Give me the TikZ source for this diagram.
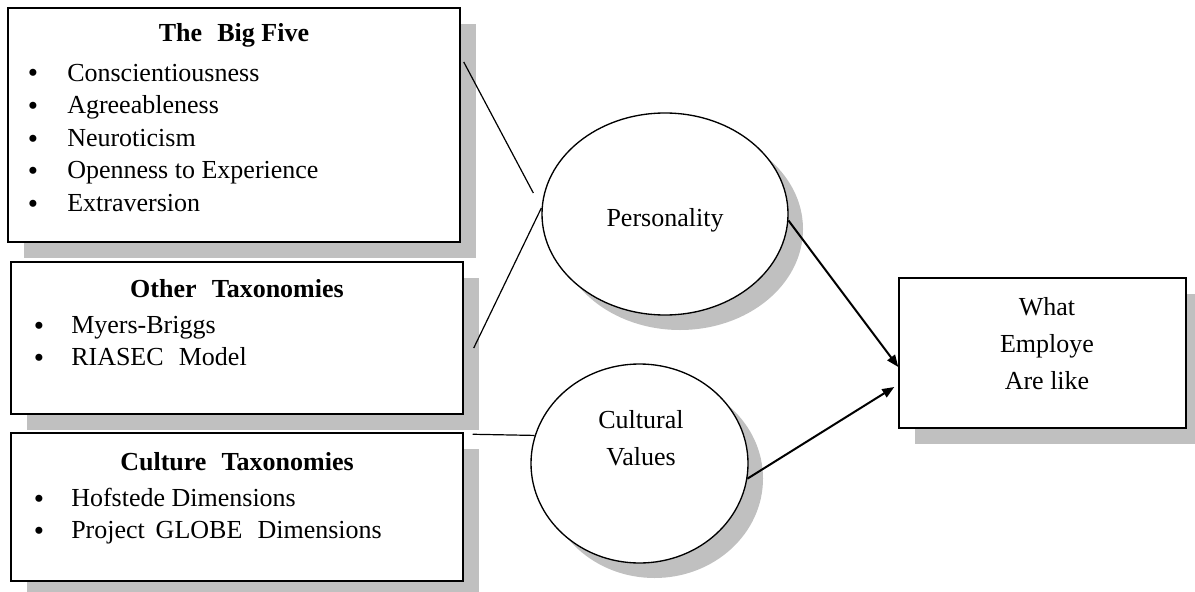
\documentclass[tikz,border=0pt]{standalone}
\usepackage{fontspec}
\setmainfont{Liberation Serif}
\usetikzlibrary{shadows,arrows.meta,calc,shapes.geometric}
\definecolor{shadowgray}{RGB}{192,192,192}
\tikzset{
  boxshadow/.style={general shadow={fill=shadowgray,shadow xshift=12pt,shadow yshift=-12pt}},
  ellshadow/.style={general shadow={fill=shadowgray,shadow xshift=11.25pt,shadow yshift=-11.25pt}},
  taxbox/.style={draw,line width=1.1pt,fill=white,rectangle,inner sep=0pt,boxshadow},
  ovalnode/.style={draw,line width=1pt,fill=white,ellipse,inner sep=0pt,ellshadow},
  txt/.style={font=\fontsize{19.5pt}{24.4pt}\selectfont,inner sep=0pt,anchor=base west},
  ttl/.style={font=\fontsize{19.5pt}{24.4pt}\selectfont\bfseries,inner sep=0pt,anchor=base},
  lbl/.style={font=\fontsize{19.5pt}{24.4pt}\selectfont,inner sep=0pt,anchor=base},
  bul/.style={font=\fontsize{22pt}{22pt}\selectfont,inner sep=0pt,anchor=base,text height=10pt,text depth=0pt},
  link/.style={line width=0.9pt},
  arrowlink/.style={line width=1.5pt,-{Triangle[length=9pt,width=7pt]}}
}
\begin{document}
\begin{tikzpicture}[x=0.75pt,y=-0.75pt]
\useasboundingbox (0,0) rectangle (1195,592);
% boxes
\node[taxbox,minimum width=339pt,minimum height=175.5pt] (big) at (234,125) {};
\node[taxbox,minimum width=339pt,minimum height=114pt] (other) at (237,338) {};
\node[taxbox,minimum width=339pt,minimum height=111pt] (cult) at (237,507) {};
\node[taxbox,minimum width=215.25pt,minimum height=112.5pt] (emp) at (1042.5,353) {};
% ellipses
\node[ovalnode,minimum width=184.5pt,minimum height=151.5pt] (pers) at (665,214) {};
\node[ovalnode,minimum width=162.75pt,minimum height=149.25pt] (cv) at (639.5,463.5) {};
% Big Five text
\node[ttl] (t1) at (234,42) {The\,\, Big Five};
\node[bul] (b11) at (33,83) {•};
\node[txt] (i11) at (67,81) {Conscientiousness};
\node[bul] (b12) at (33,115.5) {•};
\node[txt] (i12) at (67,113.5) {Agreeableness};
\node[bul] (b13) at (33,148) {•};
\node[txt] (i13) at (67,146) {Neuroticism};
\node[bul] (b14) at (33,180.5) {•};
\node[txt] (i14) at (67,178.5) {Openness to Experience};
\node[bul] (b15) at (33,213) {•};
\node[txt] (i15) at (67,211) {Extraversion};
% Other Taxonomies text
\node[ttl] (t2) at (237,297) {Other\,\, Taxonomies};
\node[bul] (b21) at (39,335) {•};
\node[txt] (i21) at (71,333) {Myers-Briggs};
\node[bul] (b22) at (39,367) {•};
\node[txt] (i22) at (71,365) {RIASEC\,\, Model};
% Culture Taxonomies text
\node[ttl] (t3) at (237,470) {Culture\,\, Taxonomies};
\node[bul] (b31) at (39,508) {•};
\node[txt] (i31) at (71,506) {Hofstede Dimensions};
\node[bul] (b32) at (39,540) {•};
\node[txt] (i32) at (71,538) {Project\, GLOBE\,\, Dimensions};
% ellipse texts
\node[lbl] (pt) at (665,226) {Personality};
\node[lbl] (cvt1) at (641,428) {Cultural};
\node[lbl] (cvt2) at (641,465) {Values};
% employee text
\node[lbl] (e1) at (1047,315) {What};
\node[lbl] (e2) at (1047,352) {Employe};
\node[lbl] (e3) at (1047,389) {Are like};
% free ends
\coordinate (c1a) at ($(big.east)+(3,-63)$);
\coordinate (c1b) at ($(pers.west)+(-8,-21)$);
\coordinate (c2b) at ($(other.east)+(10,10)$);
\coordinate (c3a) at ($(cult.north east)+(9,2)$);
\coordinate (c5b) at ($(emp.west)+(-4,34)$);
% connectors
\draw[link] (c1a) -- (c1b);
\draw[link] ($(pers.west)+(0,-6)$) -- (c2b);
\draw[link] (c3a) -- (cv.165);
\draw[arrowlink] (pers.-3) -- ($(emp.west)+(0,14)$);
\draw[arrowlink] (cv.-8) -- (c5b);
\end{tikzpicture}
\end{document}
